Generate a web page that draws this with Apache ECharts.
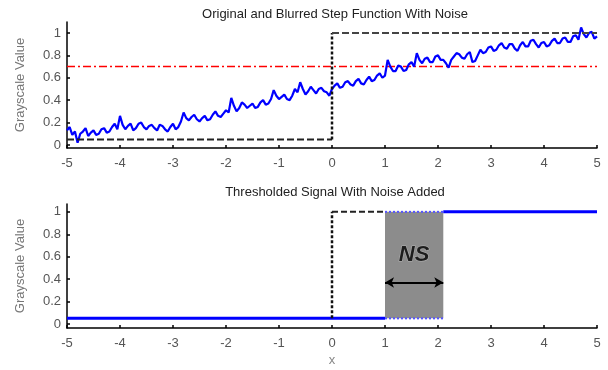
<!DOCTYPE html>
<html><head><meta charset="utf-8">
<script src="https://cdn.jsdelivr.net/npm/echarts@6/dist/echarts.min.js"></script>
<style>html,body{margin:0;padding:0;background:#fff}#c{width:608px;height:370px}</style>
</head><body><div id="c"></div>
<script>
// ---- data ----
const topTitle = 'Original and Blurred Step Function With Noise';
const bottomTitle = 'Thresholded Signal With Noise Added';
const yName = 'Grayscale Value';
const xName = 'x';
const yTicks = [0, 0.2, 0.4, 0.6, 0.8, 1];
const xStart = -5, xStep = 0.05;
const blurredNoisy = [
  0.13,0.16,0.09,0.12,0.02,0.10,0.12,0.15,0.08,0.11,
  0.13,0.09,0.10,0.14,0.15,0.11,0.12,0.16,0.19,0.14,
  0.26,0.18,0.14,0.17,0.19,0.13,0.15,0.19,0.20,0.16,
  0.14,0.17,0.18,0.15,0.13,0.18,0.17,0.14,0.12,0.16,
  0.19,0.14,0.16,0.21,0.29,0.24,0.22,0.25,0.27,0.23,
  0.21,0.24,0.26,0.22,0.23,0.27,0.30,0.26,0.25,0.28,
  0.31,0.29,0.42,0.35,0.30,0.33,0.38,0.36,0.33,0.35,
  0.37,0.33,0.34,0.38,0.40,0.36,0.37,0.41,0.49,0.44,
  0.41,0.43,0.45,0.41,0.40,0.44,0.50,0.47,0.56,0.50,
  0.45,0.48,0.52,0.49,0.46,0.50,0.51,0.48,0.47,0.44,
  0.50,0.53,0.55,0.51,0.52,0.56,0.57,0.54,0.53,0.57,
  0.59,0.55,0.54,0.58,0.61,0.57,0.58,0.62,0.64,0.60,
  0.62,0.76,0.70,0.66,0.66,0.71,0.70,0.66,0.67,0.72,
  0.74,0.70,0.82,0.76,0.73,0.77,0.78,0.74,0.74,0.79,
  0.80,0.76,0.76,0.73,0.69,0.76,0.79,0.82,0.81,0.78,
  0.77,0.81,0.83,0.74,0.75,0.80,0.85,0.82,0.83,0.87,
  0.88,0.84,0.85,0.89,0.91,0.87,0.86,0.90,0.90,0.86,
  0.84,0.89,0.92,0.88,0.88,0.93,0.94,0.90,0.87,0.91,
  0.92,0.88,0.89,0.93,0.95,0.91,0.91,0.95,0.96,0.92,
  0.92,0.97,0.98,0.94,1.05,0.99,0.96,1.00,1.01,0.95,
  0.97
];
const threshold = 0.7;
const stepLow = 0.05, stepHigh = 1, stepEdge = 0;
const xMin = -5, xMax = 5;
const nsStart = 1, nsEnd = 2.1;        // noisy-switching region
const nsLabelPos = [1.55, 0.62];
const nsArrowY = 0.37;

// ---- chart ----
const blurData = blurredNoisy.map((v, i) => [+(xStart + i * xStep).toFixed(2), v]);
const FONT = 'Liberation Sans';
const axisCommon = {
  axisLine: { onZero: false, lineStyle: { color: '#000', width: 1.5 } },
  axisTick: { inside: true, length: 3, lineStyle: { color: '#000', width: 1.5 } },
  splitLine: { show: false },
  axisLabel: { color: '#555', fontFamily: FONT, fontSize: 13 }
};
function xAxis(idx, withName) {
  return Object.assign({}, axisCommon, {
    type: 'value', gridIndex: idx, min: xMin, max: xMax, interval: 1,
    axisLabel: Object.assign({}, axisCommon.axisLabel, { margin: 9, showMinLabel: true, showMaxLabel: true }),
    name: withName ? xName : '', nameLocation: 'middle', nameGap: 26,
    nameTextStyle: { color: '#888', fontFamily: FONT, fontSize: 13 }
  });
}
function yAxis(idx, min, max) {
  return Object.assign({}, axisCommon, {
    type: 'value', gridIndex: idx, min: min, max: max,
    axisTick: Object.assign({}, axisCommon.axisTick, { customValues: yTicks }),
    axisLabel: Object.assign({}, axisCommon.axisLabel, { customValues: yTicks, margin: 6 }),
    name: yName, nameLocation: 'middle', nameGap: 40,
    nameTextStyle: { color: '#777', fontFamily: FONT, fontSize: 13 }
  });
}
function line(xi, data, color, width, type, z) {
  return { type: 'line', xAxisIndex: xi, yAxisIndex: xi, data: data, showSymbol: false, symbol: 'none',
    lineStyle: { color: color, width: width, type: type }, z: z, silent: true, animation: false };
}

const option = {
  animation: false,
  title: [
    { text: topTitle, left: 330, top: 3, textAlign: 'center',
      textStyle: { fontFamily: FONT, fontSize: 13, fontWeight: 'normal', color: '#222' } },
    { text: bottomTitle, left: 330, top: 181, textAlign: 'center',
      textStyle: { fontFamily: FONT, fontSize: 13, fontWeight: 'normal', color: '#222' } }
  ],
  grid: [
    { left: 67, top: 22, width: 530, height: 126 },
    { left: 67, top: 204, width: 530, height: 124 }
  ],
  xAxis: [xAxis(0, false), xAxis(1, true)],
  yAxis: [yAxis(0, -0.027, 1.098), yAxis(1, -0.036, 1.07)],
  series: [
    // top plot
    line(0, [[xMin, threshold], [xMax, threshold]], '#ff0000', 1.5, [8, 3, 2, 3], 2),
    line(0, blurData, '#0000ff', 2.2, 'solid', 3),
    line(0, [[xMin, stepLow], [stepEdge, stepLow]], '#222', 2, [7, 3], 4),
    line(0, [[stepEdge, stepLow], [stepEdge, stepHigh]], '#111', 2.5, [3, 2], 4),
    line(0, [[stepEdge, stepHigh], [xMax, stepHigh]], '#444', 2, [7, 3], 4),
    // bottom plot
    line(1, [[xMin, stepLow], [nsStart, stepLow]], '#0000ff', 3, 'solid', 3),
    line(1, [[nsEnd, stepHigh], [xMax, stepHigh]], '#0000ff', 3, 'solid', 3),
    line(1, [[stepEdge, stepLow], [stepEdge, stepHigh]], '#111', 2.5, [3, 2], 4),
    line(1, [[stepEdge, stepHigh], [nsStart, stepHigh]], '#222', 2, [6, 3], 4),
    {
      type: 'line', xAxisIndex: 1, yAxisIndex: 1, data: [], silent: true, z: 5,
      markArea: { silent: true, itemStyle: { color: '#8c8c8c', opacity: 1 },
        data: [[{ coord: [nsStart, stepLow] }, { coord: [nsEnd, stepHigh] }]] }
    },
    line(1, [[nsStart, stepHigh], [nsEnd, stepHigh]], '#5555ff', 2, [2, 2], 6),
    line(1, [[nsStart, stepLow], [nsEnd, stepLow]], '#5555ff', 2, [2, 2], 6),
    {
      type: 'line', xAxisIndex: 1, yAxisIndex: 1, data: [], silent: true, z: 7,
      markLine: { silent: true, symbol: ['arrow', 'arrow'], symbolSize: [8, 9],
        label: { show: false }, lineStyle: { color: '#000', width: 2, type: 'solid' },
        data: [[{ coord: [nsStart, nsArrowY] }, { coord: [nsEnd, nsArrowY] }]] }
    },
    {
      type: 'scatter', xAxisIndex: 1, yAxisIndex: 1, data: [nsLabelPos], symbolSize: 0, z: 8, silent: true,
      label: { show: true, position: 'inside', formatter: 'NS', fontFamily: FONT, fontSize: 22,
        fontWeight: 'bold', fontStyle: 'italic', color: '#000', textBorderColor: '#bbb', textBorderWidth: 1 }
    }
  ]
};
const chart = echarts.init(document.getElementById('c'), null, { renderer: 'canvas' });
chart.setOption(option);
</script></body></html>
